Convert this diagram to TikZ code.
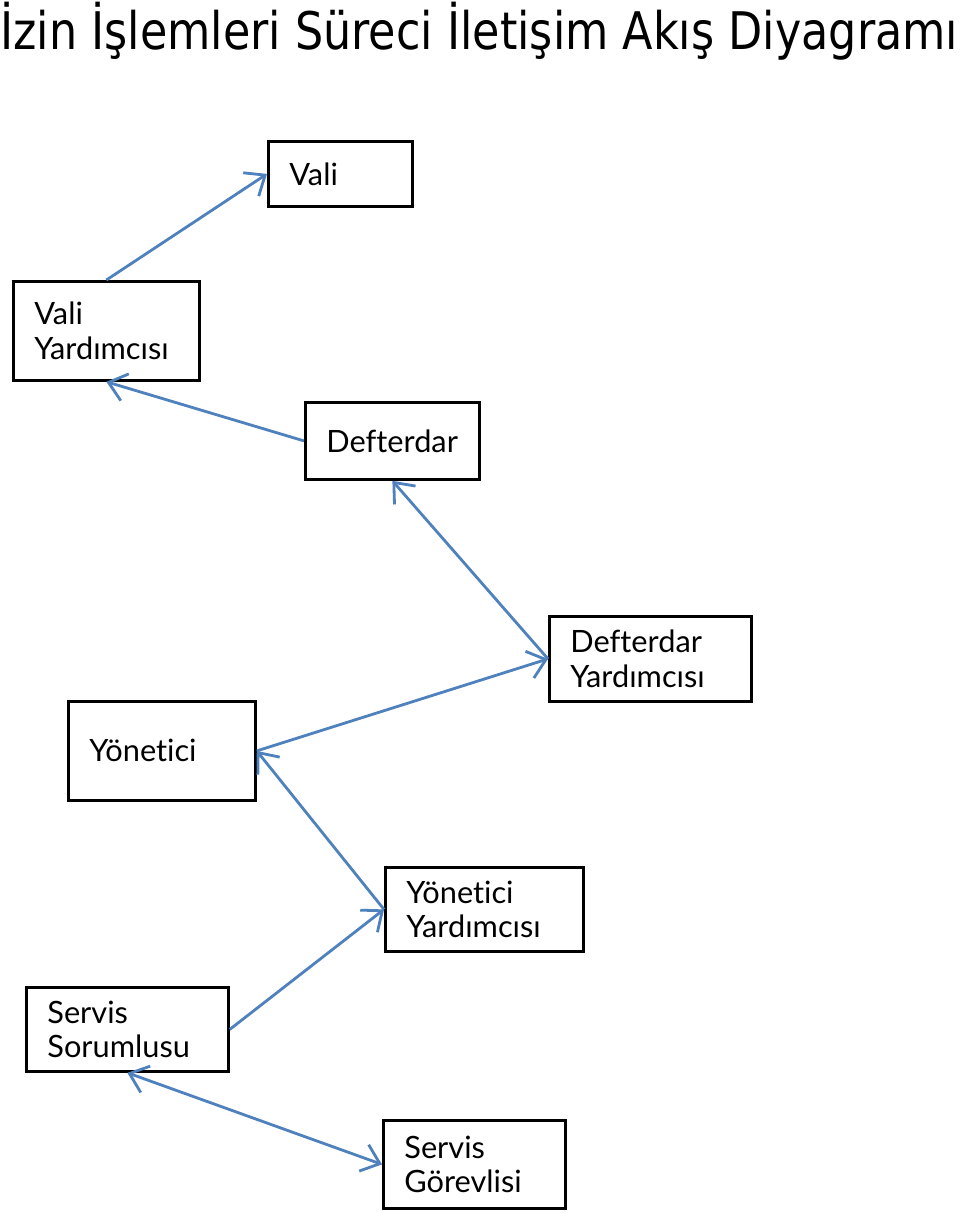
\documentclass[tikz,border=0pt]{standalone}
\usepackage{graphicx}
\usepackage{fontspec}
\setmainfont{Lato}[Ligatures={NoCommon}]
\newfontfamily\titlefont{DejaVu Sans}
\usepackage{tikz}
\usetikzlibrary{
  arrows.meta,
  positioning
}
\definecolor{linkblue}{RGB}{79,129,189}

\begin{document}
\begin{tikzpicture}[x=0.02cm, y=-0.02cm,
            rolebox/.style={rectangle, draw=black, line width=1.6pt, anchor=north west, align=left, inner xsep=0.42cm, inner ysep=0pt, font=\fontsize{17.5}{19.8}\selectfont},
            link/.style={draw=linkblue, line width=1.6pt, -{Straight Barb[length=3.4mm, width=5.6mm]}}]
            \useasboundingbox (0,0) rectangle (960,1213);
            \node [anchor=base west, inner sep=0pt] (title) at (0,50) {\resizebox{19.16cm}{\height}{\titlefont\fontsize{29.5}{32}\selectfont İzin İşlemleri Süreci İletişim Akış Diyagramı}};
            \node [rolebox, minimum width=2.88cm, minimum height=1.30cm, text width=2.04cm] (vali) at (267,140) {Vali};
            \node [rolebox, minimum width=3.72cm, minimum height=1.98cm, text width=2.88cm] (vy) at (12,280) {Vali\\Yardımcısı};
            \node [rolebox, minimum width=3.48cm, minimum height=1.54cm, text width=2.64cm] (def) at (304,401) {Defterdar};
            \node [rolebox, minimum width=4.04cm, minimum height=1.70cm, text width=3.20cm] (dy) at (548,615) {Defterdar\\Yardımcısı};
            \node [rolebox, minimum width=3.74cm, minimum height=1.98cm, text width=2.90cm] (yon) at (67,700) {Yönetici};
            \node [rolebox, minimum width=3.96cm, minimum height=1.68cm, text width=3.12cm] (yy) at (384,866) {Yönetici\\Yardımcısı};
            \node [rolebox, minimum width=4.04cm, minimum height=1.68cm, text width=3.20cm] (ss) at (25,986) {Servis\\Sorumlusu};
            \node [rolebox, minimum width=3.64cm, minimum height=1.76cm, text width=2.80cm] (sg) at (382,1119) {Servis\\Görevlisi};
            % connectors, bottom up
            \draw [link, {Straight Barb[length=3.4mm, width=5.6mm]}-{Straight Barb[length=3.4mm, width=5.6mm]}] (ss.south) -- (sg.west);
            \draw [link] (ss.east) -- (yy.west);
            \draw [link] (yy.west) -- (yon.east);
            \draw [link] (yon.east) -- (dy.west);
            \draw [link] (dy.west) -- (def.south);
            \draw [link] (def.west) -- (vy.south);
            \draw [link] (vy.north) -- (vali.west);
        \end{tikzpicture}
\end{document}
